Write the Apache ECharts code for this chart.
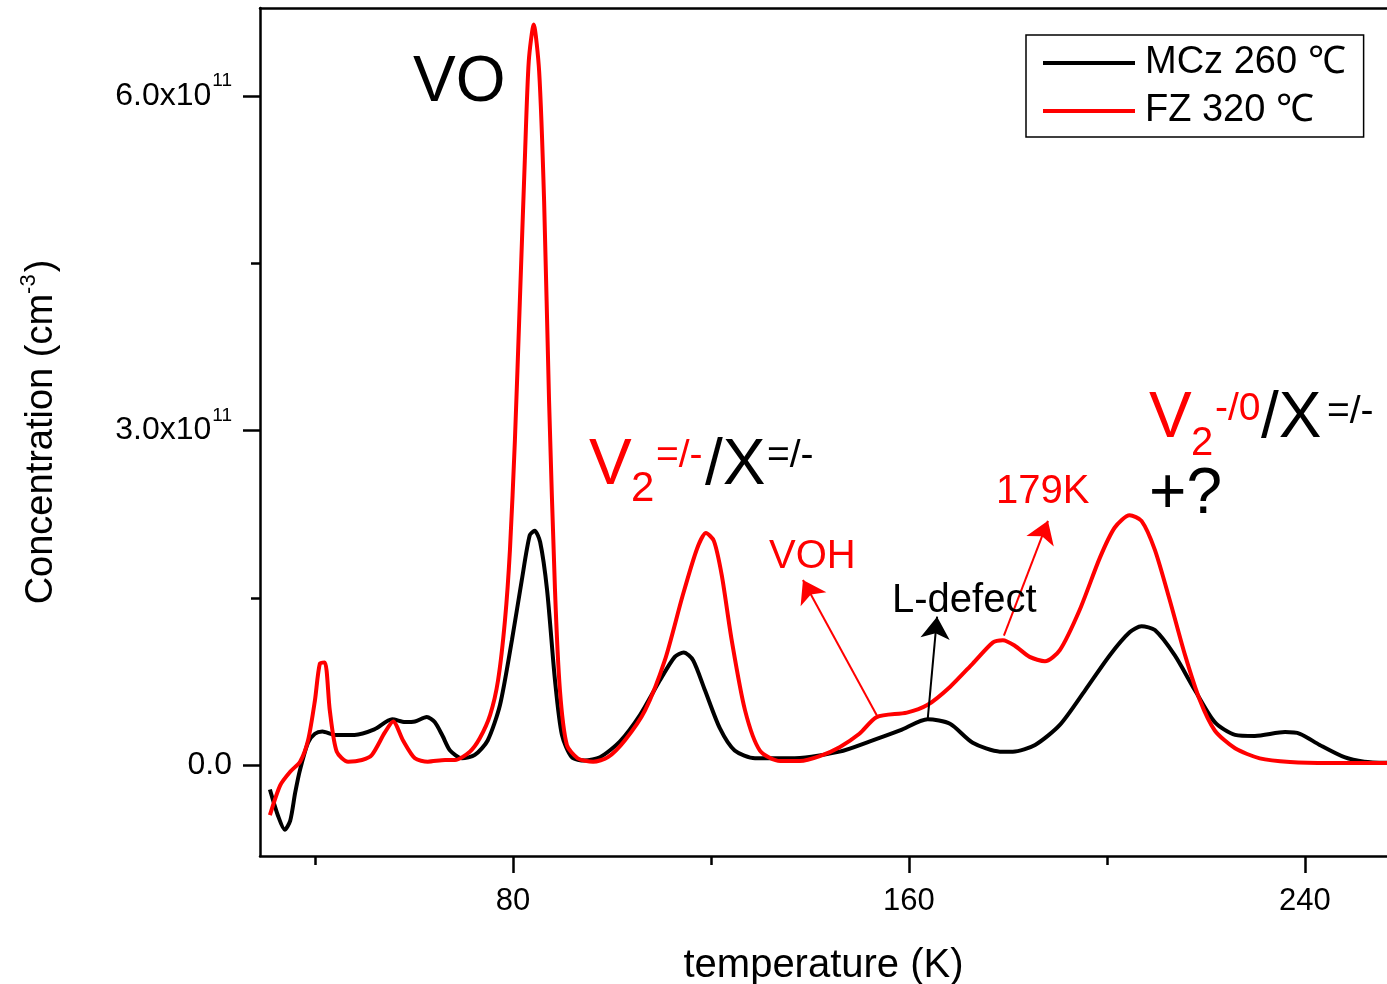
<!DOCTYPE html>
<html>
<head>
<meta charset="utf-8">
<script src="https://cdn.jsdelivr.net/npm/echarts@6/dist/echarts.min.js"></script>
<style>
  html, body { margin: 0; padding: 0; background: #fff; }
  #grafico { width: 1387px; height: 984px; }
</style>
</head>
<body>
<div id="grafico"></div>
<script>
// datos (concentracion en unidades de 1e11 cm^-3)
const seriesNames = ['MCz 260 ℃', 'FZ 320 ℃'];

const mczTemp = [30.9, 32.5, 33.9, 35.0, 36.0, 37.0, 38.6, 40.0, 41.5, 44.0, 48.0, 52.0, 55.6, 58.2, 60.2,
  62.6, 64.2, 65.8, 67.3, 69.7, 72.3, 74.9, 77.4, 79.8, 81.8, 83.4, 84.4, 85.5, 86.9, 88.5, 89.9, 91.9,
  94.5, 97.6, 101.6, 105.7, 109.7, 112.7, 114.5, 116.4, 118.8, 121.8, 124.8, 128.9, 136.0, 146.0, 152.0,
  158.2, 163.8, 168.3, 172.9, 178.4, 181.0, 185.5, 190.5, 195.6, 200.6, 204.6, 207.0, 209.7, 213.7,
  217.8, 221.8, 225.9, 229.9, 236.0, 239.0, 243.0, 248.0, 252.0, 256.6];
const mczConc = [-0.22, -0.45, -0.58, -0.50, -0.25, -0.04, 0.20, 0.28, 0.30, 0.27, 0.27, 0.32, 0.41, 0.385, 0.39,
  0.43, 0.385, 0.26, 0.13, 0.06, 0.09, 0.22, 0.54, 1.12, 1.66, 2.06, 2.10, 2.00, 1.57, 0.76, 0.27, 0.07,
  0.04, 0.07, 0.21, 0.45, 0.76, 0.97, 1.01, 0.94, 0.67, 0.33, 0.13, 0.06, 0.06, 0.12, 0.21,
  0.31, 0.41, 0.37, 0.20, 0.12, 0.12, 0.18, 0.36, 0.67, 0.985, 1.19, 1.245, 1.21, 0.985,
  0.67, 0.385, 0.27, 0.26, 0.295, 0.28, 0.18, 0.07, 0.03, 0.02];

const fzTemp = [30.9, 33.0, 35.0, 37.0, 38.6, 40.0, 41.0, 42.0, 43.0, 44.4, 46.7, 49.5, 51.5, 54.1, 55.8,
  57.8, 60.2, 62.8, 66.3, 68.3, 71.3, 73.3, 75.4, 77.0, 78.4, 79.4, 80.4, 81.4, 82.4, 83.2, 84.2, 85.3,
  86.3, 87.3, 88.5, 89.5, 90.9, 93.1, 96.2, 99.2, 102.6, 106.7, 110.7, 114.3, 117.2, 119.0, 120.6, 122.2,
  124.2, 126.9, 129.9, 134.0, 138.0, 142.0, 146.0, 150.0, 153.5, 159.6, 163.8, 168.3, 172.9, 177.0,
  179.0, 181.4, 184.4, 187.5, 190.5, 194.5, 198.6, 201.6, 204.6, 207.0, 209.7, 212.7, 215.8, 218.8,
  221.8, 225.9, 230.9, 237.0, 245.0, 256.6];
const fzConc = [-0.45, -0.18, -0.06, 0.03, 0.22, 0.58, 0.91, 0.92, 0.49, 0.12, 0.03, 0.045, 0.09, 0.29, 0.39,
  0.22, 0.06, 0.03, 0.045, 0.045, 0.12, 0.24, 0.45, 0.76, 1.30, 1.93, 2.91, 4.16, 5.42, 6.31, 6.64, 6.22,
  5.06, 3.27, 1.57, 0.67, 0.18, 0.06, 0.03, 0.07, 0.22, 0.49, 0.94, 1.52, 1.94, 2.08, 2.01, 1.70,
  1.12, 0.49, 0.13, 0.036, 0.036, 0.08, 0.16, 0.28, 0.43, 0.47, 0.54, 0.70, 0.91, 1.10,
  1.12, 1.07, 0.97, 0.93, 1.03, 1.39, 1.86, 2.13, 2.24, 2.19, 1.93, 1.48, 0.985, 0.58,
  0.31, 0.15, 0.06, 0.027, 0.018, 0.018];

// ejes
const xMajorTicks = [80, 160, 240];
const xMinorTicks = [40, 120, 200];
const yMajorTicks = [0, 3, 6];
const yMinorTicks = [1.5, 4.5];

// flechas [T inicio, C inicio, T fin, C fin]
const arrowVOH = [153.7, 0.43, 138.6, 1.66];
const arrowLdef = [163.8, 0.41, 165.7, 1.33];
const arrow179 = [179.2, 1.16, 188.1, 2.19];

const FONT = 'Liberation Sans, Arial, Helvetica, sans-serif';
const X_MIN = 28.9, X_MAX = 256.6;
const Y_MIN = -0.816, Y_MAX = 6.789;

const zip = (a, b) => a.map((v, i) => [v, b[i]]);
const arrowLine = (a) => [{ coord: [a[0], a[1]] }, { coord: [a[2], a[3]] }];

// textos de anotacion (posicion en pixeles)
const notes = [
  { t: 'VO', x: 413, y: 83, s: 64, c: '#000' },
  { t: 'V', x: 589, y: 466, s: 64, c: '#ff0000' },
  { t: '2', x: 631, y: 489, s: 42, c: '#ff0000' },
  { t: '=/-', x: 656, y: 456, s: 39, c: '#ff0000' },
  { t: '/X', x: 705, y: 466, s: 64, c: '#000' },
  { t: '=/-', x: 767, y: 456, s: 39, c: '#000' },
  { t: 'V', x: 1149, y: 419, s: 64, c: '#ff0000' },
  { t: '2', x: 1191, y: 444, s: 40, c: '#ff0000' },
  { t: '-/0', x: 1215, y: 409, s: 39, c: '#ff0000' },
  { t: '/X', x: 1261, y: 419, s: 64, c: '#000' },
  { t: '=/-', x: 1327, y: 412, s: 39, c: '#000' },
  { t: '+?', x: 1149, y: 495, s: 64, c: '#000' },
  { t: '179K', x: 996, y: 492, s: 40, c: '#ff0000' },
  { t: 'VOH', x: 769, y: 557, s: 40, c: '#ff0000' },
  { t: 'L-defect', x: 892, y: 601, s: 40, c: '#000' }
];

const chartDom = document.getElementById('grafico');
const myChart = echarts.init(chartDom);

const baseAxis = { min: X_MIN, max: X_MAX, type: 'value', splitLine: { show: false } };
const baseY = { min: Y_MIN, max: Y_MAX, type: 'value', splitLine: { show: false } };

const option = {
  animation: false,
  backgroundColor: '#fff',
  grid: { left: 260, top: 8, right: 0, bottom: 128, containLabel: false, outerBoundsMode: 'none' },
  legend: {
    data: seriesNames,
    orient: 'vertical',
    left: 1026,
    top: 35,
    padding: [8, 18, 6, 17],
    itemGap: 8,
    icon: 'rect',
    itemWidth: 92,
    itemHeight: 4,
    borderColor: '#000',
    borderWidth: 1.5,
    backgroundColor: '#fff',
    textStyle: { fontSize: 38, color: '#000', fontFamily: FONT, lineHeight: 40, padding: [0, 0, 0, 5] }
  },
  xAxis: [
    Object.assign({}, baseAxis, {
      position: 'bottom',
      name: 'temperature (K)',
      nameLocation: 'middle',
      nameGap: 90,
      nameTextStyle: { fontSize: 40, color: '#000', fontFamily: FONT },
      axisLine: { show: true, onZero: false, lineStyle: { color: '#000', width: 2.5 } },
      axisTick: { show: true, customValues: xMajorTicks, length: 17, lineStyle: { color: '#000', width: 2.5 } },
      axisLabel: { customValues: xMajorTicks, margin: 30, fontSize: 31, color: '#000', fontFamily: FONT }
    }),
    Object.assign({}, baseAxis, {
      position: 'bottom',
      axisLine: { show: false, onZero: false },
      axisTick: { show: true, customValues: xMinorTicks, length: 9, lineStyle: { color: '#000', width: 2.5 } },
      axisLabel: { show: false }
    }),
    Object.assign({}, baseAxis, {
      position: 'top',
      axisLine: { show: true, onZero: false, lineStyle: { color: '#000', width: 2.5 } },
      axisTick: { show: false },
      axisLabel: { show: false }
    })
  ],
  yAxis: [
    Object.assign({}, baseY, {
      position: 'left',
      name: 'Concentration (cm{s|-3})',
      nameLocation: 'middle',
      nameGap: 194,
      nameTextStyle: {
        fontSize: 38, color: '#000', fontFamily: FONT,
        rich: { s: { fontSize: 22, fontFamily: FONT, color: '#000', padding: [0, 2, 26, 0] } }
      },
      axisLine: { show: true, onZero: false, lineStyle: { color: '#000', width: 2.5 } },
      axisTick: { show: true, customValues: yMajorTicks, length: 17, lineStyle: { color: '#000', width: 2.5 } },
      axisLabel: {
        customValues: yMajorTicks,
        margin: 28,
        color: '#000',
        fontFamily: FONT,
        fontSize: 32,
        formatter: (v) => v === 0 ? '{m|0.0}' : '{m|' + v.toFixed(1) + 'x10}{s|11}',
        rich: {
          m: { fontSize: 32, fontFamily: FONT, color: '#000' },
          s: { fontSize: 19, fontFamily: FONT, color: '#000', padding: [0, 0, 30, 1] }
        }
      }
    }),
    Object.assign({}, baseY, {
      position: 'left',
      axisLine: { show: false, onZero: false },
      axisTick: { show: true, customValues: yMinorTicks, length: 9, lineStyle: { color: '#000', width: 2.5 } },
      axisLabel: { show: false }
    })
  ],
  series: [
    {
      name: seriesNames[0],
      type: 'line',
      data: zip(mczTemp, mczConc),
      symbol: 'none',
      smooth: 0.25,
      lineStyle: { color: '#000', width: 4 },
      itemStyle: { color: '#000' },
      z: 3,
      markLine: {
        silent: true,
        symbol: ['none', 'arrow'],
        symbolSize: 22,
        label: { show: false },
        lineStyle: { color: '#000', width: 2, type: 'solid' },
        data: [arrowLine(arrowLdef)]
      }
    },
    {
      name: seriesNames[1],
      type: 'line',
      data: zip(fzTemp, fzConc),
      symbol: 'none',
      smooth: 0.25,
      lineStyle: { color: '#ff0000', width: 4 },
      itemStyle: { color: '#ff0000' },
      z: 4,
      markLine: {
        silent: true,
        symbol: ['none', 'arrow'],
        symbolSize: 22,
        label: { show: false },
        lineStyle: { color: '#ff0000', width: 2, type: 'solid' },
        data: [arrowLine(arrowVOH), arrowLine(arrow179)]
      }
    }
  ],
  graphic: notes.map(n => ({
    type: 'text',
    x: n.x,
    y: n.y,
    z: 10,
    style: {
      text: n.t,
      fill: n.c,
      fontSize: n.s,
      fontFamily: FONT,
      align: 'left',
      verticalAlign: 'middle'
    }
  }))
};

option && myChart.setOption(option);

window.addEventListener('resize', () => {
  myChart.resize();
});
</script>
</body>
</html>
